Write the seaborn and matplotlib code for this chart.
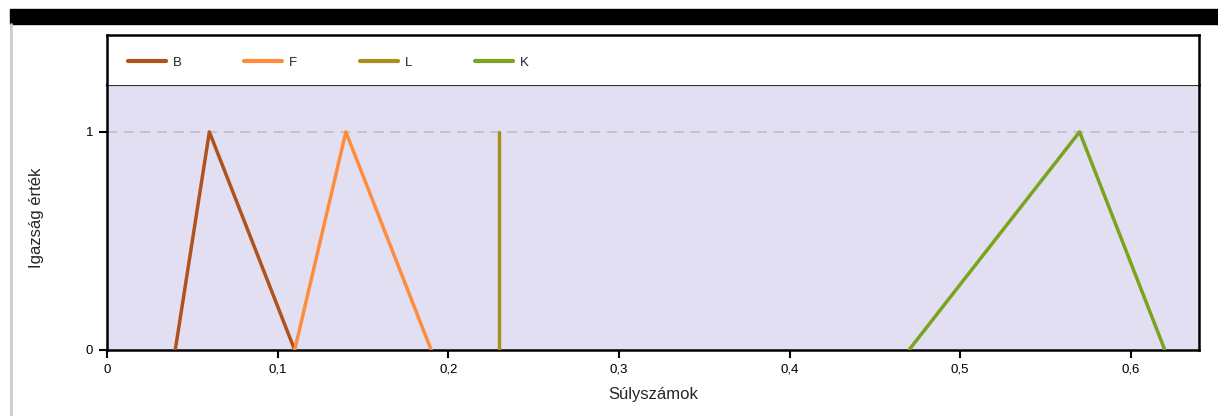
import matplotlib
matplotlib.use("Agg")
import matplotlib.pyplot as plt
from matplotlib.patches import Rectangle
from matplotlib.lines import Line2D
from matplotlib.ticker import FuncFormatter
import pandas as pd
import seaborn as sns

# fuzzy sets: (x, truth value) corner points
series_names = ["B", "F", "L", "K"]
b_x = [0.04, 0.06, 0.11]
b_y = [0, 1, 0]
f_x = [0.11, 0.14, 0.19]
f_y = [0, 1, 0]
l_x = [0.23, 0.23]
l_y = [0, 1]
k_x = [0.47, 0.57, 0.62]
k_y = [0, 1, 0]
colors = ["#b0521c", "#ff8c3c", "#a8901e", "#7aa41e"]
x_ticks = [0, 0.1, 0.2, 0.3, 0.4, 0.5, 0.6]
y_ticks = [0, 1]

rows = []
for name, xs, ys in zip(series_names, [b_x, f_x, l_x, k_x], [b_y, f_y, l_y, k_y]):
    for i, (x, y) in enumerate(zip(xs, ys)):
        rows.append({"set": name, "x": x, "y": y, "order": i})
df = pd.DataFrame(rows)

sns.set_theme(style="ticks")
plt.rcParams["font.family"] = ["Liberation Sans", "DejaVu Sans"]

fig = plt.figure(figsize=(12.18, 4.16), dpi=100)
W, H = 1218, 416

# top black bar and left grey border
fig.patches.append(Rectangle((10 / W, 1 - 24 / H), 1 - 10 / W, 15 / H,
                             transform=fig.transFigure, color="black", zorder=0))
fig.lines.append(Line2D([11 / W, 11 / W], [0, 1 - 24 / H], transform=fig.transFigure,
                        color="#cccccc", lw=2))

left, right = 107 / W, 1199 / W
bottom, top = 1 - 350 / H, 1 - 85 / H
leg_top = 1 - 35 / H

ax = fig.add_axes([left, bottom, right - left, top - bottom])
ax.set_facecolor("#e2dff3")
ax.axhline(1, color="#c0bcc4", lw=1.2, ls=(0, (6, 4)), zorder=1)

sns.lineplot(data=df, x="x", y="y", hue="set", hue_order=series_names,
             palette=colors, sort=False, estimator=None, units="set",
             lw=2.5, ax=ax, legend=False, zorder=3)

ax.set_xlim(0, 0.64)
ax.set_ylim(0, 1.215)
ax.set_xticks(x_ticks)
ax.set_yticks(y_ticks)
ax.xaxis.set_major_formatter(FuncFormatter(
    lambda v, p: "0" if v == 0 else f"{v:.1f}".replace(".", ",")))
ax.yaxis.set_major_formatter(FuncFormatter(lambda v, p: f"{v:g}"))
ax.tick_params(axis="both", direction="out", length=6, width=1.5, labelsize=9.5,
               colors="black", pad=4)
for sp in ax.spines.values():
    sp.set_visible(True)
    sp.set_color("black")
    sp.set_linewidth(1.8)
ax.spines["top"].set_color("#333333")
ax.spines["top"].set_linewidth(1.6)
ax.set_xlabel("Súlyszámok", fontsize=12, labelpad=8)
ax.set_ylabel("Igazság érték", fontsize=12, labelpad=30)

# legend strip above the plot
lax = fig.add_axes([left, top, right - left, leg_top - top])
lax.set_xticks([])
lax.set_yticks([])
for sp in lax.spines.values():
    sp.set_color("black")
    sp.set_linewidth(1.8)
lax.spines["bottom"].set_visible(False)
handles = [Line2D([], [], color=c, lw=3) for c in colors]
lax.legend(handles, series_names, loc="center left", ncol=4, frameon=False,
           fontsize=9.5, handlelength=2.9, handletextpad=0.5, columnspacing=4.75,
           borderaxespad=0.0, bbox_to_anchor=(0.014, 0.44))

fig.savefig("out.png", dpi=100)
